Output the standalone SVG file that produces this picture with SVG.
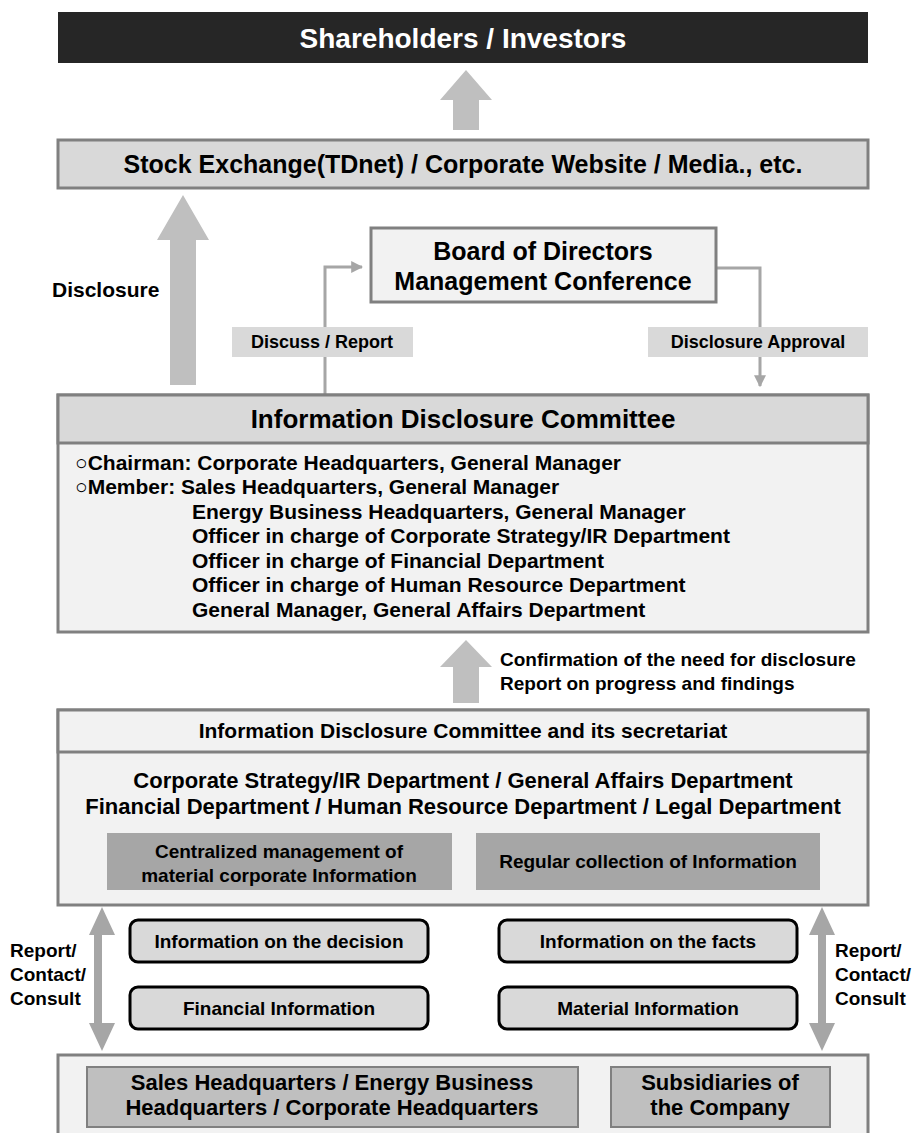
<svg xmlns="http://www.w3.org/2000/svg" width="916" height="1133" viewBox="0 0 916 1133">
<style>
text{font-family:"Liberation Sans","DejaVu Sans",sans-serif;font-weight:bold;fill:#000}
.c{text-anchor:middle}
.box{stroke:#808080;stroke-width:3}
.lt{fill:#f2f2f2}
.md{fill:#d9d9d9}
.dk{fill:#a6a6a6}
.rb{fill:#d9d9d9;stroke:#000;stroke-width:3}
.big{fill:#bfbfbf}
.ln{fill:none;stroke:#a6a6a6;stroke-width:3}
</style>
<defs>
<marker id="ah" viewBox="0 0 10 10" refX="9" refY="5" markerWidth="4" markerHeight="4" orient="auto-start-reverse">
<path d="M0,0L10,5L0,10z" fill="#a6a6a6"/>
</marker>
</defs>
<rect width="916" height="1133" fill="#fff"/>
<g id="connectors">
<path class="big" d="M453,100H479V130H453z M440,100L466,70L492,100z"/>
<path class="big" d="M170,240H196V385H170z M157,240L183,195L209,240z"/>
<path class="big" d="M453,667H479V703H453z M440,667L466,640L492,667z"/>
<path class="ln" d="M325,395V267H362" marker-end="url(#ah)"/>
<path class="ln" d="M716,268H760V386" marker-end="url(#ah)"/>
<path d="M98,930V1030" stroke="#a6a6a6" stroke-width="8"/>
<path d="M102,907L89,935H115z M102,1051L89,1023H115z" fill="#a6a6a6"/>
<path d="M822,930V1030" stroke="#a6a6a6" stroke-width="8"/>
<path d="M822,907L809,935H835z M822,1051L809,1023H835z" fill="#a6a6a6"/>
</g>
<g id="shareholders">
<rect x="58" y="12" width="810" height="51" fill="#262626"/>
<text class="c" x="463" y="48" font-size="28" style="fill:#fff">Shareholders / Investors</text>
</g>
<g id="stock-exchange">
<rect class="box md" x="58" y="140" width="810" height="48"/>
<text class="c" x="463" y="173" font-size="25">Stock Exchange(TDnet) / Corporate Website / Media., etc.</text>
</g>
<g id="disclosure-label">
<text x="52" y="297" font-size="21">Disclosure</text>
</g>
<g id="board">
<rect class="box lt" x="371" y="228" width="345" height="74"/>
<text class="c" x="543" y="260" font-size="25">Board of Directors</text>
<text class="c" x="543" y="290" font-size="25">Management Conference</text>
</g>
<g id="discuss-report">
<rect class="md" x="232" y="327" width="181" height="30"/>
<text class="c" x="322" y="348" font-size="18">Discuss / Report</text>
</g>
<g id="disclosure-approval">
<rect class="md" x="648" y="327" width="220" height="30"/>
<text class="c" x="758" y="348" font-size="18">Disclosure Approval</text>
</g>
<g id="committee">
<rect class="box lt" x="58" y="395" width="810" height="237"/>
<rect class="box md" x="58" y="395" width="810" height="48"/>
<text class="c" x="463" y="428" font-size="26">Information Disclosure Committee</text>
<text x="75" y="470" font-size="21">○Chairman: Corporate Headquarters, General Manager</text>
<text x="75" y="494" font-size="21">○Member: Sales Headquarters, General Manager</text>
<text x="192" y="519" font-size="21">Energy Business Headquarters, General Manager</text>
<text x="192" y="543" font-size="21">Officer in charge of Corporate Strategy/IR Department</text>
<text x="192" y="568" font-size="21">Officer in charge of Financial Department</text>
<text x="192" y="592" font-size="21">Officer in charge of Human Resource Department</text>
<text x="192" y="617" font-size="21">General Manager, General Affairs Department</text>
</g>
<g id="confirmation-label">
<text x="500" y="666" font-size="19">Confirmation of the need for disclosure</text>
<text x="500" y="690" font-size="19">Report on progress and findings</text>
</g>
<g id="secretariat">
<rect class="box lt" x="58" y="710" width="810" height="195"/>
<rect class="box lt" x="58" y="710" width="810" height="42"/>
<text class="c" x="463" y="738" font-size="21">Information Disclosure Committee and its secretariat</text>
<text class="c" x="463" y="788" font-size="22">Corporate Strategy/IR Department / General Affairs Department</text>
<text class="c" x="463" y="814" font-size="22">Financial Department / Human Resource Department / Legal Department</text>
</g>
<g id="centralized">
<rect class="dk" x="107" y="833" width="345" height="57"/>
<text class="c" x="279" y="858" font-size="19">Centralized management of</text>
<text class="c" x="279" y="882" font-size="19">material corporate Information</text>
</g>
<g id="regular">
<rect class="dk" x="476" y="833" width="344" height="57"/>
<text class="c" x="648" y="868" font-size="19">Regular collection of Information</text>
</g>
<g id="report-left">
<text x="10" y="957" font-size="19">Report/</text>
<text x="10" y="981" font-size="19">Contact/</text>
<text x="10" y="1005" font-size="19">Consult</text>
</g>
<g id="report-right">
<text x="835" y="957" font-size="19">Report/</text>
<text x="835" y="981" font-size="19">Contact/</text>
<text x="835" y="1005" font-size="19">Consult</text>
</g>
<g id="info-decision">
<rect class="rb" x="130" y="920" width="298" height="42" rx="8"/>
<text class="c" x="279" y="948" font-size="19">Information on the decision</text>
</g>
<g id="info-facts">
<rect class="rb" x="499" y="920" width="298" height="42" rx="8"/>
<text class="c" x="648" y="948" font-size="19">Information on the facts</text>
</g>
<g id="financial-info">
<rect class="rb" x="130" y="987" width="298" height="42" rx="8"/>
<text class="c" x="279" y="1015" font-size="19">Financial Information</text>
</g>
<g id="material-info">
<rect class="rb" x="499" y="987" width="298" height="42" rx="8"/>
<text class="c" x="648" y="1015" font-size="19">Material Information</text>
</g>
<g id="bottom">
<rect class="box lt" x="58" y="1055" width="810" height="90"/>
</g>
<g id="headquarters">
<rect class="box big" x="87" y="1067" width="491" height="60" style="stroke-width:2"/>
<text class="c" x="332" y="1090" font-size="22">Sales Headquarters / Energy Business</text>
<text class="c" x="332" y="1115" font-size="22">Headquarters / Corporate Headquarters</text>
</g>
<g id="subsidiaries">
<rect class="box big" x="611" y="1067" width="219" height="60" style="stroke-width:2"/>
<text class="c" x="720" y="1090" font-size="22">Subsidiaries of</text>
<text class="c" x="720" y="1115" font-size="22">the Company</text>
</g>
</svg>
